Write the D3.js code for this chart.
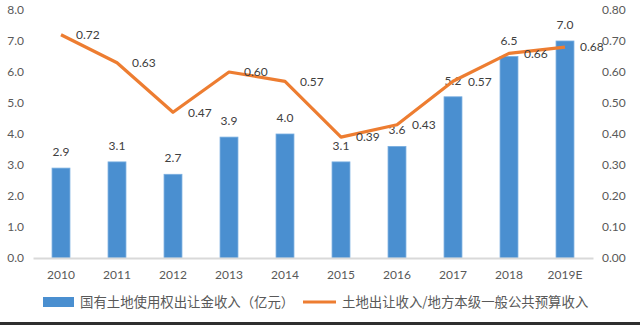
<!DOCTYPE html>
<html>
<head>
<meta charset="utf-8">
<script src="https://cdn.jsdelivr.net/npm/d3@7"></script>
<style>
  body { margin: 0; background: #fff; }
  svg { display: block; }
</style>
</head>
<body>
<svg width="640" height="325"></svg>
<script>
// data
var years = ['2010', '2011', '2012', '2013', '2014', '2015', '2016', '2017', '2018', '2019E'];
var landRevenue = [2.9, 3.1, 2.7, 3.9, 4.0, 3.1, 3.6, 5.2, 6.5, 7.0];
var landRatio = [0.72, 0.63, 0.47, 0.60, 0.57, 0.39, 0.43, 0.57, 0.66, 0.68];
var leftTicks = [0, 1, 2, 3, 4, 5, 6, 7, 8];
var rightTicks = [0, 0.1, 0.2, 0.3, 0.4, 0.5, 0.6, 0.7, 0.8];
var barName = '国有土地使用权出让金收入（亿元）';
var lineName = '土地出让收入/地方本级一般公共预算收入';

var svg = d3.select('svg');
var font = 'Lato, "Open Sans", sans-serif';
var cjk = '"Noto Sans CJK SC", sans-serif';
var grey = '#595959';

// plot area (note: "top" is a reserved window global, so use own names)
var plotL = 33, plotR = 593, plotT = 10, plotB = 258;

var x = d3.scaleBand().domain(years).range([plotL, plotR]).paddingInner(0.68).paddingOuter(0.34);
var yL = d3.scaleLinear().domain([0, 8]).range([plotB, plotT]);
var yR = d3.scaleLinear().domain([0, 0.8]).range([plotB, plotT]);

// left axis
var axL = svg.append('g').attr('transform', 'translate(' + plotL + ',0)')
    .call(d3.axisLeft(yL).tickValues(leftTicks).tickFormat(d3.format('.1f')).tickSize(0).tickPadding(9));
axL.select('.domain').remove();
axL.selectAll('text').attr('fill', grey).style('font-family', font).style('font-size', '12px');

// right axis
var axR = svg.append('g').attr('transform', 'translate(' + plotR + ',0)')
    .call(d3.axisRight(yR).tickValues(rightTicks).tickFormat(d3.format('.2f')).tickSize(0).tickPadding(9));
axR.select('.domain').remove();
axR.selectAll('text').attr('fill', grey).style('font-family', font).style('font-size', '12px');

// bars
svg.append('g').selectAll('rect').data(landRevenue).join('rect')
    .attr('x', function (d, i) { return x(years[i]); })
    .attr('y', function (d) { return yL(d); })
    .attr('width', x.bandwidth())
    .attr('height', function (d) { return yL(0) - yL(d); })
    .attr('fill', '#4a8fd0')
    .attr('stroke', '#79aee0')
    .attr('stroke-width', 0.8);

// bottom axis
var axB = svg.append('g').attr('transform', 'translate(0,' + plotB + ')')
    .call(d3.axisBottom(x).tickSize(0).tickPadding(12));
axB.select('.domain').attr('stroke', '#d9d9d9').attr('stroke-width', 2);
axB.selectAll('text').attr('fill', grey).style('font-family', font).style('font-size', '12px');

// bar labels
svg.append('g').selectAll('text').data(landRevenue).join('text')
    .attr('x', function (d, i) { return x(years[i]) + x.bandwidth() / 2; })
    .attr('y', function (d) { return yL(d) - 12; })
    .attr('text-anchor', 'middle')
    .attr('fill', '#404040')
    .style('font-family', font).style('font-size', '12px')
    .text(function (d) { return d.toFixed(1); });

// line
var cxOf = function (i) { return x(years[i]) + x.bandwidth() / 2; };
var line = d3.line()
    .x(function (d, i) { return cxOf(i); })
    .y(function (d) { return yR(d); });
svg.append('path').datum(landRatio)
    .attr('d', line)
    .attr('fill', 'none')
    .attr('stroke', '#ed7d31')
    .attr('stroke-width', 3.2)
    .attr('stroke-linejoin', 'round');

svg.append('g').selectAll('text').data(landRatio).join('text')
    .attr('x', function (d, i) { return cxOf(i) + 15; })
    .attr('y', function (d) { return yR(d); })
    .attr('dy', '0.35em')
    .attr('fill', '#404040')
    .style('font-family', font).style('font-size', '12px')
    .text(function (d) { return d.toFixed(2); });

// legend
svg.append('rect').attr('x', 43).attr('y', 297).attr('width', 31).attr('height', 10).attr('fill', '#4a8fd0');
svg.append('text').attr('x', 80).attr('y', 302).attr('dy', '0.35em')
    .attr('fill', grey).style('font-family', cjk).style('font-size', '13.4px').text(barName);
svg.append('line').attr('x1', 303).attr('x2', 336).attr('y1', 302).attr('y2', 302)
    .attr('stroke', '#ed7d31').attr('stroke-width', 3);
svg.append('text').attr('x', 342).attr('y', 302).attr('dy', '0.35em')
    .attr('fill', grey).style('font-family', cjk).style('font-size', '13.4px').text(lineName);

// dark strip at the bottom edge
svg.append('rect').attr('x', 0).attr('y', 322).attr('width', 640).attr('height', 3).attr('fill', '#2e2e2e');
</script>
</body>
</html>
